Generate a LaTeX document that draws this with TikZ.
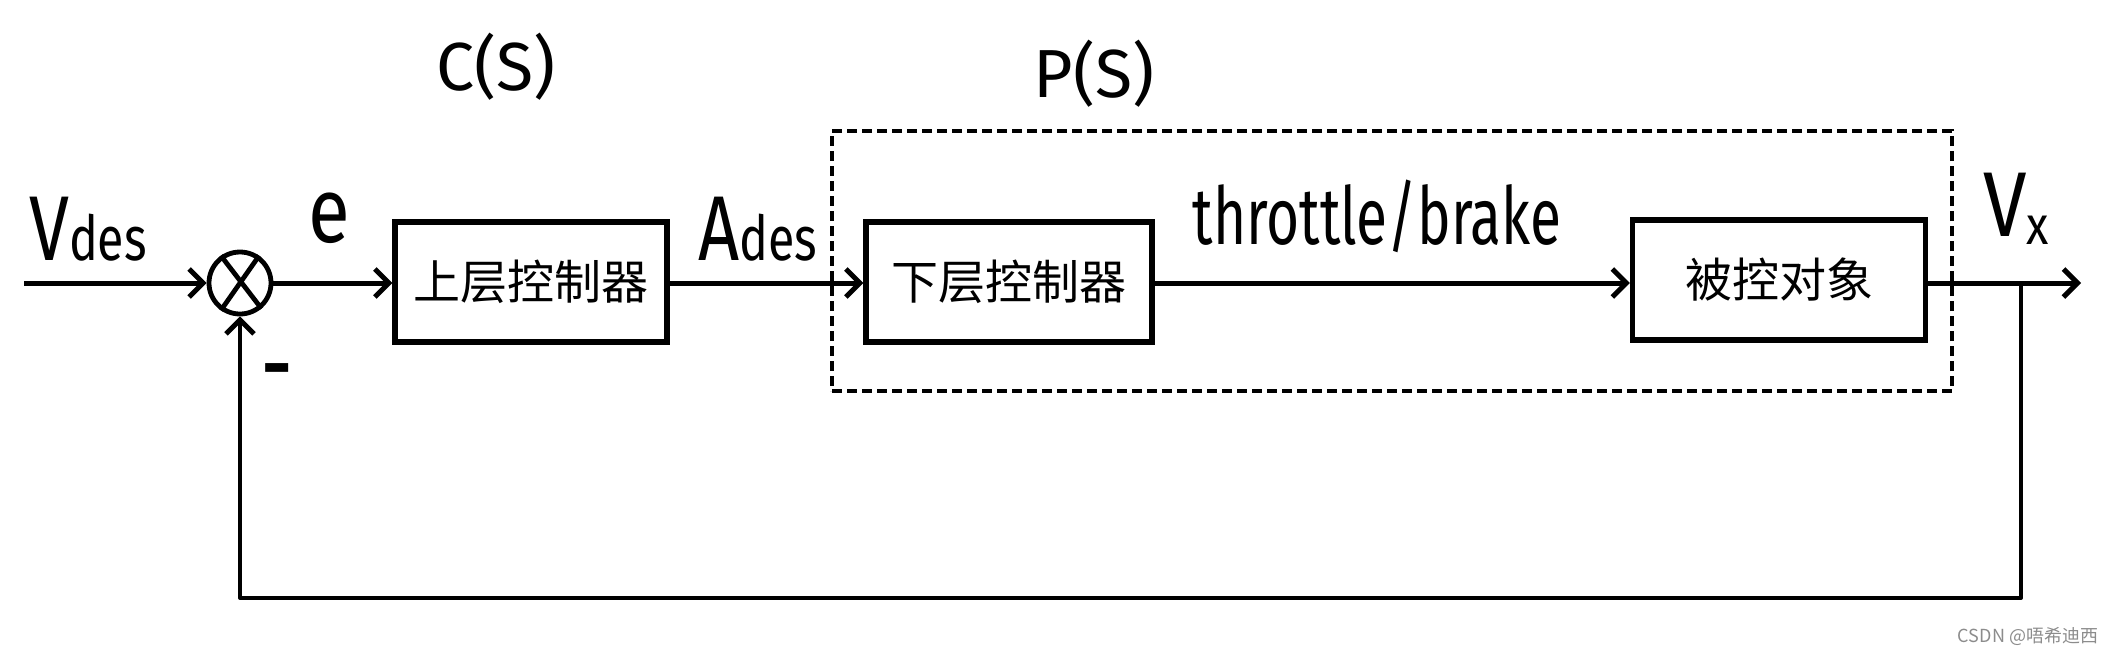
\documentclass[tikz,border=0pt]{standalone}
\usepackage{fontspec}
\usepackage{graphicx}
\setmainfont{Fira Sans}
\newfontfamily\cjk{Noto Sans CJK SC}
\usetikzlibrary{arrows.meta}
\begin{document}
\begin{tikzpicture}[x=0.5pt,y=-0.5pt,
  blk/.style={draw, line width=2.6pt, inner sep=0pt, minimum height=60pt,
    font=\cjk\fontsize{23.5}{25}\selectfont},
  sig/.style={line width=2.5pt, line join=round,
    -{Straight Barb[length=7pt,width=14pt,line width=2.5pt]}},
  fbk/.style={line width=2pt, line join=round,
    -{Straight Barb[length=7pt,width=14pt,line width=2.5pt]}},
  lbl/.style={inner sep=0pt},
  big/.style={lbl, font=\fontsize{34}{36}\selectfont},
  pdash/.style={draw, line width=1.7pt, dash pattern=on 5pt off 2.5pt}
]
\useasboundingbox (0,0) rectangle (2112,654);

% blocks
\node[blk, minimum width=136pt] (c1) at (531,282) {上层控制器};
\node[blk, minimum width=143pt] (c2) at (1009,282) {下层控制器};
\node[blk, minimum width=146.5pt] (pl) at (1779,280) {被控对象};
\node[pdash, minimum width=560pt, minimum height=130pt, inner sep=0pt] (pbox) at (1392,261) {};

% summing junction
\node[circle, draw, line width=2.4pt, minimum size=31pt, inner sep=0pt] (sum) at (240,283) {};
\draw[line width=2.4pt] (sum.125) -- (sum.-50);
\draw[line width=2.4pt] (sum.55) -- (sum.235);

% signals
\coordinate (in) at (24,283);
\coordinate (out) at (2081,283);
\coordinate (tap) at (2021,283);
\coordinate (fb) at (2021,598);
\draw[sig] (in) -- (sum);
\draw[sig] (sum) -- (sum -| c1.west);
\draw[sig] (c1.east |- sum) -- (c2.west |- sum);
\draw[sig] (c2.east |- sum) -- (pl.west |- sum);
\draw[sig] (pl.east |- out) -- (out);
\draw[fbk] (tap) -- (fb) -| (sum.south);

% labels
\node[big] (cs) at (496,67) {C(S)};
\node[big] (ps) at (1094,74) {P(S)};
\node[lbl] (vdes) at (88,229) {\scalebox{0.78}[1]{\fontsize{46}{48}\selectfont V\fontsize{31}{33}\selectfont des}};
\node[lbl] (e) at (329,218) {\scalebox{0.83}[1]{\fontsize{46}{48}\selectfont e}};
\node[lbl] (ades) at (758,229) {\scalebox{0.78}[1]{\fontsize{46}{48}\selectfont A\fontsize{31}{33}\selectfont des}};
\node[lbl] (tb) at (1377,216) {\scalebox{0.71}[1]{\fontsize{40}{42}\selectfont throttle/brake}};
\node[lbl] (vx) at (2016,209) {\scalebox{0.85}[1]{\fontsize{46}{48}\selectfont V\raisebox{-4pt}{\fontsize{27}{29}\selectfont x}}};
\node[lbl, font=\bfseries\fontsize{36}{38}\selectfont] (minus) at (277,377) {-};
\node[lbl, text=black!45, font=\cjk\fontsize{9}{10}\selectfont] (wm) at (2028,636) {CSDN @唔希迪西};
\end{tikzpicture}
\end{document}
